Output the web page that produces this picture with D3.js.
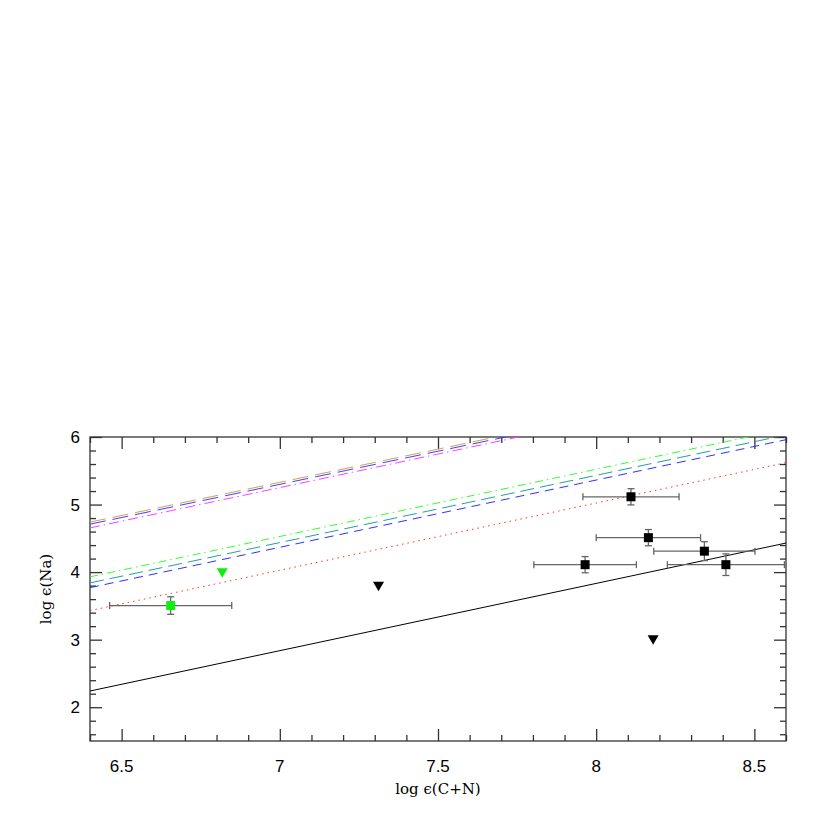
<!DOCTYPE html>
<html>
<head>
<meta charset="utf-8">
<script src="https://cdn.jsdelivr.net/npm/d3@7"></script>
<style>
  body { margin: 0; background: #fff; }
  svg { display: block; }
  .tick-label { font-family: "Liberation Sans", Arial, sans-serif; font-size: 17px; fill: #000; }
  .axis-title { font-family: "DejaVu Serif", "Liberation Serif", serif; font-size: 15px; fill: #000; }
</style>
</head>
<body>
<script>
let width = 830;
let height = 830;
let margin = {top: 437, right: 44, bottom: 89, left: 90};

// model lines: [x0, y0, x1, y1] in data units
let lineNames = ['base', 'red', 'blue', 'teal', 'green', 'tan', 'blue2', 'magenta'];
let lineEnds = [
  [6.4, 2.24, 8.6, 4.43],
  [6.4, 3.43, 8.6, 5.62],
  [6.4, 3.77, 8.6, 5.96],
  [6.4, 3.84, 8.6, 6.03],
  [6.4, 3.93, 8.6, 6.12],
  [6.4, 4.74, 8.6, 6.90],
  [6.4, 4.71, 8.6, 6.87],
  [6.4, 4.655, 8.6, 6.84]
];
let lineColors = ['#000', '#ff3030', '#3030ff', '#20a0a0', '#30ff30', '#d4a050', '#4040ff', '#ff40ff'];
let lineDash = ['none', '1.5,4', '9,6', '14,6', '8,4,1.5,4', '16,7', '16,7', '10,4,1.5,4'];

// detections with errors
let detX = [8.11, 8.165, 8.342, 8.41, 7.965, 6.655];
let detY = [5.115, 4.51, 4.31, 4.11, 4.11, 3.505];
let detXErr = [0.152, 0.165, 0.16, 0.185, 0.162, 0.193];
let detYErr = [0.12, 0.12, 0.14, 0.16, 0.12, 0.13];
let detColor = ['#000', '#000', '#000', '#000', '#000', '#10ee10'];

// upper limits
let limX = [6.818, 7.312, 8.18];
let limY = [3.99, 3.79, 3.0];
let limColor = ['#10ee10', '#000', '#000'];

let xTicks = [6.5, 7, 7.5, 8, 8.5];
let yTicks = [2, 3, 4, 5, 6];
let xMinor = [6.4, 6.6, 6.7, 6.8, 6.9, 7.1, 7.2, 7.3, 7.4, 7.6, 7.7, 7.8, 7.9, 8.1, 8.2, 8.3, 8.4, 8.6];
let yMinor = [1.6, 1.8, 2.2, 2.4, 2.6, 2.8, 3.2, 3.4, 3.6, 3.8, 4.2, 4.4, 4.6, 4.8, 5.2, 5.4, 5.6, 5.8];

let svg = d3.select('body')
    .append('svg')
    .attr('width', width)
    .attr('height', height);

let w = width - margin.left - margin.right;
let h = height - margin.top - margin.bottom;

let x = d3.scaleLinear().domain([6.4, 8.6]).range([0, w]);
let y = d3.scaleLinear().domain([1.5, 6]).range([h, 0]);

let g = svg.append('g').attr('transform', `translate(${margin.left},${margin.top})`);

g.append('clipPath').attr('id', 'clip')
  .append('rect').attr('width', w).attr('height', h);

// ticks pointing inward on all four sides
function tickAxis(axis, values, size, transform) {
  let a = g.append('g')
      .attr('transform', transform)
      .call(axis.tickValues(values).tickSize(size).tickSizeOuter(0).tickFormat(''));
  a.select('.domain').remove();
  a.selectAll('line').attr('stroke', '#333').attr('stroke-width', 1.3);
}
tickAxis(d3.axisBottom(x), xTicks, -12, `translate(0,${h})`);
tickAxis(d3.axisBottom(x), xMinor, -6, `translate(0,${h})`);
tickAxis(d3.axisTop(x), xTicks, -12, 'translate(0,0)');
tickAxis(d3.axisTop(x), xMinor, -6, 'translate(0,0)');
tickAxis(d3.axisLeft(y), yTicks, -12, 'translate(0,0)');
tickAxis(d3.axisLeft(y), yMinor, -6, 'translate(0,0)');
tickAxis(d3.axisRight(y), yTicks, -12, `translate(${w},0)`);
tickAxis(d3.axisRight(y), yMinor, -6, `translate(${w},0)`);

// frame
g.append('rect')
    .attr('width', w).attr('height', h)
    .attr('fill', 'none').attr('stroke', '#333').attr('stroke-width', 1.3);

g.selectAll('.xlab')
  .data(xTicks)
  .enter().append('text')
    .attr('class', 'tick-label')
    .attr('x', d => x(d))
    .attr('y', h + 31)
    .attr('text-anchor', 'middle')
    .text(d => d);

g.selectAll('.ylab')
  .data(yTicks)
  .enter().append('text')
    .attr('class', 'tick-label')
    .attr('x', -10)
    .attr('y', d => y(d) + 6)
    .attr('text-anchor', 'end')
    .text(d => d);

// model lines
let lines = g.append('g').attr('clip-path', 'url(#clip)');
lineEnds.forEach((e, i) => {
  lines.append('line')
    .attr('class', lineNames[i])
    .attr('x1', x(e[0])).attr('y1', y(e[1]))
    .attr('x2', x(e[2])).attr('y2', y(e[3]))
    .attr('stroke', lineColors[i])
    .attr('stroke-width', 1)
    .attr('stroke-dasharray', lineDash[i]);
});

// error bars
let eb = g.append('g').attr('stroke', '#666').attr('stroke-width', 1.3);
detX.forEach((d, i) => {
  let cx = x(d), cy = y(detY[i]);
  let x0 = x(d - detXErr[i]), x1 = x(d + detXErr[i]);
  let y0 = y(detY[i] - detYErr[i]), y1 = y(detY[i] + detYErr[i]);
  eb.append('line').attr('x1', x0).attr('x2', x1).attr('y1', cy).attr('y2', cy);
  eb.append('line').attr('x1', x0).attr('x2', x0).attr('y1', cy - 3.5).attr('y2', cy + 3.5);
  eb.append('line').attr('x1', x1).attr('x2', x1).attr('y1', cy - 3.5).attr('y2', cy + 3.5);
  eb.append('line').attr('x1', cx).attr('x2', cx).attr('y1', y0).attr('y2', y1);
  eb.append('line').attr('x1', cx - 3.5).attr('x2', cx + 3.5).attr('y1', y0).attr('y2', y0);
  eb.append('line').attr('x1', cx - 3.5).attr('x2', cx + 3.5).attr('y1', y1).attr('y2', y1);
});

g.selectAll('.det')
  .data(detX)
  .enter().append('rect')
    .attr('x', d => x(d) - 4.5)
    .attr('y', (d, i) => y(detY[i]) - 4.5)
    .attr('width', 9)
    .attr('height', 9)
    .attr('fill', (d, i) => detColor[i]);

// downward triangles for upper limits
g.selectAll('.lim')
  .data(limX)
  .enter().append('path')
    .attr('d', (d, i) => {
      let cx = x(d), cy = y(limY[i]);
      return `M${cx - 5.5},${cy - 4.5}L${cx + 5.5},${cy - 4.5}L${cx},${cy + 5}Z`;
    })
    .attr('fill', (d, i) => limColor[i]);

// axis titles
svg.append('text')
    .attr('class', 'axis-title')
    .attr('x', margin.left + w / 2)
    .attr('y', 794)
    .attr('text-anchor', 'middle')
    .text('log  ϵ(C+N)');

svg.append('text')
    .attr('class', 'axis-title')
    .attr('transform', `translate(51,${margin.top + h / 2}) rotate(-90)`)
    .attr('text-anchor', 'middle')
    .text('log  ϵ(Na)');
</script>
</body>
</html>
